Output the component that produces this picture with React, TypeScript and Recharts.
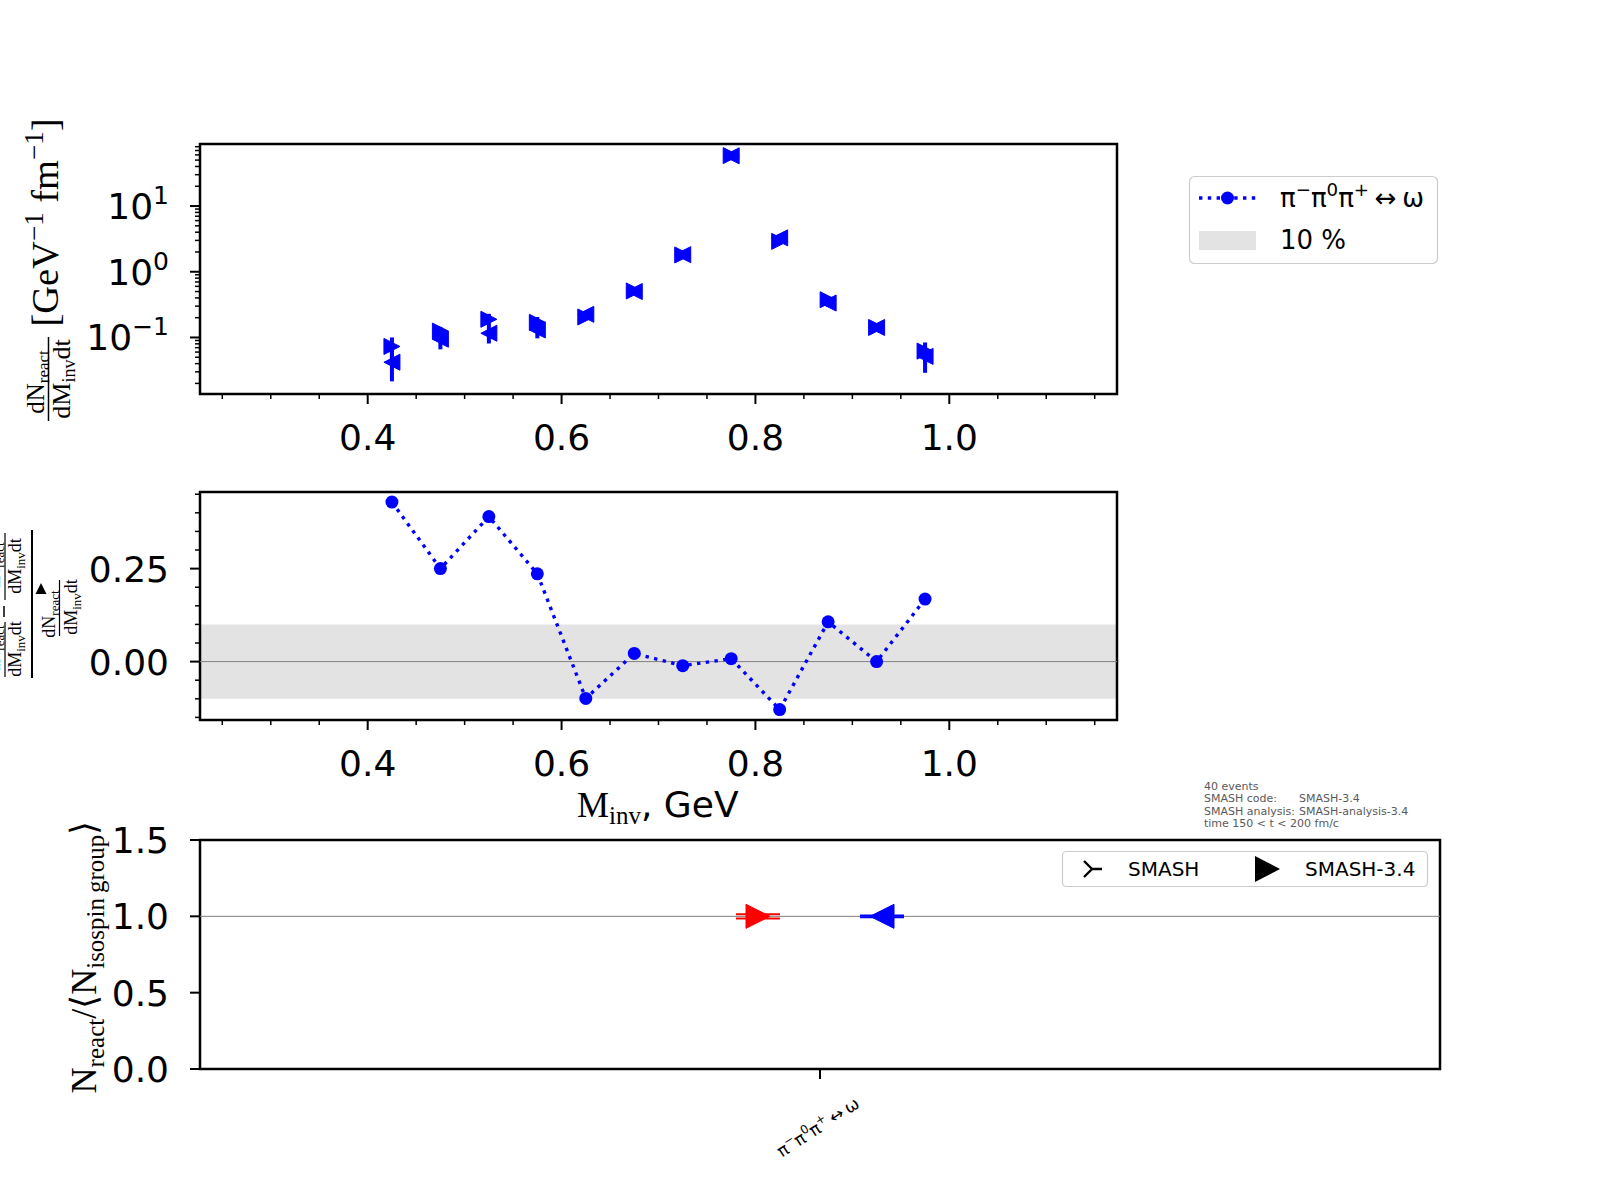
import React from 'react';
import {
  ScatterChart,
  ComposedChart,
  Scatter,
  Line,
  XAxis,
  YAxis,
  ErrorBar,
  ReferenceArea,
  ReferenceLine,
} from 'recharts';

// ---------------- data ----------------
const massBins = [0.425, 0.475, 0.525, 0.575, 0.625, 0.675, 0.725, 0.775, 0.825, 0.875, 0.925, 0.975];
// series drawn with right-pointing triangles
const rateRight = [0.073, 0.125, 0.189, 0.17, 0.205, 0.51, 1.8, 58.5, 2.9, 0.375, 0.142, 0.062];
const rateRightErr = [0.027, 0.02, 0.04, 0.035, 0.02, 0.03, 0.07, 1.2, 0.25, 0.04, 0.015, 0.022];
// series drawn with left-pointing triangles
const rateLeft = [0.042, 0.094, 0.116, 0.13, 0.225, 0.5, 1.82, 58.0, 3.28, 0.334, 0.142, 0.0515];
const rateLeftErr = [0.0205, 0.028, 0.035, 0.033, 0.02, 0.03, 0.07, 1.2, 0.25, 0.04, 0.015, 0.0225];
// relative difference
const relDiff = [0.429, 0.25, 0.39, 0.236, -0.099, 0.022, -0.011, 0.008, -0.129, 0.107, 0.0, 0.168];

const massMajorTicks = [0.4, 0.6, 0.8, 1.0];
const massTickLabels = ['0.4', '0.6', '0.8', '1.0'];
const massMinorTicks = [0.25, 0.3, 0.35, 0.45, 0.5, 0.55, 0.65, 0.7, 0.75, 0.85, 0.9, 0.95, 1.05, 1.1, 1.15];
const rateMajorTicks = [0.1, 1, 10];
const rateTickExponents = ['−1', '0', '1'];
const rateMinorTicks = [
  0.02, 0.03, 0.04, 0.05, 0.06, 0.07, 0.08, 0.09,
  0.2, 0.3, 0.4, 0.5, 0.6, 0.7, 0.8, 0.9,
  2, 3, 4, 5, 6, 7, 8, 9,
  20, 30, 40, 50, 60, 70, 80,
];
const diffMajorTicks = [0, 0.25];
const diffTickLabels = ['0.00', '0.25'];
const diffMinorTicks = [-0.15, -0.1, -0.05, 0.05, 0.1, 0.15, 0.2, 0.3, 0.35, 0.4, 0.45];
const ratioTicks = [0, 0.5, 1.0, 1.5];
const ratioTickLabels = ['0.0', '0.5', '1.0', '1.5'];

const reactionLabels = ['π⁻π⁰π⁺↔ω'];
const ratioRight = [1.0];
const ratioRightErr = [0.014];
const ratioLeft = [1.0];
const ratioLeftErr = [0.006];
const groupOffset = 0.1;

const legendLabels = ['π⁻π⁰π⁺↔ω', '10 %'];
const versionLegend = ['SMASH', 'SMASH-3.4'];
const infoLines = [
  ['40 events', ''],
  ['SMASH code:', 'SMASH-3.4'],
  ['SMASH analysis:', 'SMASH-analysis-3.4'],
  ['time 150 < t < 200 fm/c', ''],
];

// ---------------- derived tables ----------------
const rightData = massBins.map((x, i) => ({ x, y: rateRight[i], err: rateRightErr[i] }));
const leftData = massBins.map((x, i) => ({ x, y: rateLeft[i], err: rateLeftErr[i] }));
const diffData = massBins.map((x, i) => ({ x, y: relDiff[i] }));
const ratioRightData = reactionLabels.map((_, i) => ({ x: i - groupOffset, y: ratioRight[i], err: ratioRightErr[i] }));
const ratioLeftData = reactionLabels.map((_, i) => ({ x: i + groupOffset, y: ratioLeft[i], err: ratioLeftErr[i] }));

const MASS_DOMAIN: [number, number] = [0.227, 1.173];
const RATE_DOMAIN: [number, number] = [0.0138, 87.9];
const DIFF_DOMAIN: [number, number] = [-0.157, 0.456];
const RATIO_DOMAIN: [number, number] = [0, 1.5];
const CAT_DOMAIN: [number, number] = [-1, 1];

const BLUE = '#0000ff';
const SANS = 'DejaVu Sans';
const SERIF = 'Liberation Serif';

const idx = (arr: number[], v: number) => arr.findIndex((a) => Math.abs(a - v) < 1e-9);

// ---------------- rich text helper ----------------
const SUP: Record<string, string> = { '⁻': '−', '⁰': '0', '⁺': '+' };
function richSpans(label: string, size: number) {
  const out: React.ReactNode[] = [];
  let raised = false;
  const chars = Array.from(label);
  chars.forEach((c, i) => {
    if (SUP[c]) {
      out.push(
        <tspan key={i} dy={raised ? 0 : -size * 0.42} fontSize={size * 0.7}>
          {SUP[c]}
        </tspan>
      );
      raised = true;
    } else {
      const pad = c === '↔' || chars[i - 1] === '↔' ? size * 0.22 : 0;
      out.push(
        <tspan key={i} dy={raised ? size * 0.42 : 0} dx={pad} fontSize={size}>
          {c}
        </tspan>
      );
      raised = false;
    }
  });
  return out;
}

// ---------------- ticks ----------------
const MassTick = (props: any) => {
  const { x, y, payload } = props;
  const k = idx(massMajorTicks, payload.value);
  const major = k >= 0;
  return (
    <g>
      <line x1={x} x2={x} y1={y} y2={y + (major ? 10 : 5)} stroke="#000" strokeWidth={major ? 2 : 1.5} />
      {major && (
        <text x={x} y={y + 56} textAnchor="middle" fontFamily={SANS} fontSize={36} fill="#000">
          {massTickLabels[k]}
        </text>
      )}
    </g>
  );
};

const RateTick = (props: any) => {
  const { x, y, payload } = props;
  const k = idx(rateMajorTicks, payload.value);
  const major = k >= 0;
  return (
    <g>
      <line x1={x - (major ? 10 : 5)} x2={x} y1={y} y2={y} stroke="#000" strokeWidth={major ? 2 : 1.5} />
      {major && (
        <text x={x - 31} y={y + 13} textAnchor="end" fontFamily={SANS} fontSize={36} fill="#000">
          10
          <tspan dy={-15} fontSize={25}>
            {rateTickExponents[k]}
          </tspan>
        </text>
      )}
    </g>
  );
};

const DiffTick = (props: any) => {
  const { x, y, payload } = props;
  const k = idx(diffMajorTicks, payload.value);
  const major = k >= 0;
  return (
    <g>
      <line x1={x - (major ? 10 : 5)} x2={x} y1={y} y2={y} stroke="#000" strokeWidth={major ? 2 : 1.5} />
      {major && (
        <text x={x - 31} y={y + 13} textAnchor="end" fontFamily={SANS} fontSize={36} fill="#000">
          {diffTickLabels[k]}
        </text>
      )}
    </g>
  );
};

const RatioTick = (props: any) => {
  const { x, y, payload } = props;
  const k = idx(ratioTicks, payload.value);
  return (
    <g>
      <line x1={x - 10} x2={x} y1={y} y2={y} stroke="#000" strokeWidth={2} />
      <text x={x - 31} y={y + 13} textAnchor="end" fontFamily={SANS} fontSize={36} fill="#000">
        {ratioTickLabels[k]}
      </text>
    </g>
  );
};

const CategoryTick = (props: any) => {
  const { x, y, payload } = props;
  const label = reactionLabels[Math.round(payload.value)] ?? '';
  return (
    <g>
      <line x1={x} x2={x} y1={y} y2={y + 10} stroke="#000" strokeWidth={2} />
      <g transform={`translate(${x - 2},${y + 58}) rotate(-33)`}>
        <text x={0} y={6} textAnchor="middle" fontFamily={SANS} fontSize={17} fill="#000">
          {richSpans(label, 17)}
        </text>
      </g>
    </g>
  );
};

// ---------------- markers ----------------
const triRight = (h: number, fill: string) => (p: any) => {
  const { cx, cy } = p;
  if (cx == null || cy == null) return <g />;
  return <polygon points={`${cx + h},${cy} ${cx - h},${cy - h} ${cx - h},${cy + h}`} fill={fill} stroke={fill} strokeWidth={1} />;
};
const triLeft = (h: number, fill: string) => (p: any) => {
  const { cx, cy } = p;
  if (cx == null || cy == null) return <g />;
  return <polygon points={`${cx - h},${cy} ${cx + h},${cy - h} ${cx + h},${cy + h}`} fill={fill} stroke={fill} strokeWidth={1} />;
};

const abs: React.CSSProperties = { position: 'absolute', left: 0, top: 0 };

const axisCommon = {
  tickSize: 0,
  tickMargin: 0,
  tickLine: false,
  axisLine: false,
  interval: 0 as const,
  allowDataOverflow: true,
};

export default function App() {
  return (
    <div style={{ position: 'absolute', left: 0, top: 0, width: 1600, height: 1200, background: '#fff', overflow: 'hidden' }}>
      {/* ---------- top panel ---------- */}
      <div style={abs}>
        <ScatterChart width={1600} height={1200} margin={{ top: 144, right: 483, bottom: 746, left: 100 }}>
          <XAxis
            type="number"
            dataKey="x"
            domain={MASS_DOMAIN}
            ticks={[...massMinorTicks, ...massMajorTicks].sort((a, b) => a - b)}
            tick={<MassTick />}
            height={60}
            {...axisCommon}
          />
          <YAxis
            type="number"
            dataKey="y"
            scale="log"
            domain={RATE_DOMAIN}
            ticks={[...rateMinorTicks, ...rateMajorTicks].sort((a, b) => a - b)}
            tick={<RateTick />}
            width={100}
            {...axisCommon}
          />
          <Scatter data={leftData} fill={BLUE} shape={triLeft(8, BLUE)} isAnimationActive={false}>
            <ErrorBar dataKey="err" direction="y" width={0} strokeWidth={4} stroke={BLUE} />
          </Scatter>
          <Scatter data={rightData} fill={BLUE} shape={triRight(8, BLUE)} isAnimationActive={false}>
            <ErrorBar dataKey="err" direction="y" width={0} strokeWidth={4} stroke={BLUE} />
          </Scatter>
          <ReferenceArea
            x1={MASS_DOMAIN[0]}
            x2={MASS_DOMAIN[1]}
            y1={RATE_DOMAIN[0]}
            y2={RATE_DOMAIN[1]}
            fill="none"
            stroke="#000"
            strokeWidth={2.5}
            ifOverflow="visible"
          />
        </ScatterChart>
      </div>

      {/* ---------- middle panel ---------- */}
      <div style={abs}>
        <ComposedChart width={1600} height={1200} data={diffData} margin={{ top: 492, right: 483, bottom: 420, left: 100 }}>
          <XAxis
            type="number"
            dataKey="x"
            domain={MASS_DOMAIN}
            ticks={[...massMinorTicks, ...massMajorTicks].sort((a, b) => a - b)}
            tick={<MassTick />}
            height={60}
            {...axisCommon}
          />
          <YAxis
            type="number"
            domain={DIFF_DOMAIN}
            ticks={[...diffMinorTicks, ...diffMajorTicks].sort((a, b) => a - b)}
            tick={<DiffTick />}
            width={100}
            {...axisCommon}
          />
          <ReferenceArea
            x1={MASS_DOMAIN[0]}
            x2={MASS_DOMAIN[1]}
            y1={-0.1}
            y2={0.1}
            fill="#e3e3e3"
            fillOpacity={1}
            stroke="none"
            ifOverflow="visible"
          />
          <ReferenceLine y={0} stroke="#808080" strokeWidth={1} />
          <Line
            type="linear"
            dataKey="y"
            stroke={BLUE}
            strokeWidth={3.4}
            strokeDasharray="3.4 5.4"
            dot={(p: any) => <circle key={`d${p.index}`} cx={p.cx} cy={p.cy} r={6.5} fill={BLUE} stroke="none" />}
            activeDot={false}
            isAnimationActive={false}
          />
          <ReferenceArea
            x1={MASS_DOMAIN[0]}
            x2={MASS_DOMAIN[1]}
            y1={DIFF_DOMAIN[0]}
            y2={DIFF_DOMAIN[1]}
            fill="none"
            stroke="#000"
            strokeWidth={2.5}
            ifOverflow="visible"
          />
        </ComposedChart>
      </div>

      {/* ---------- bottom panel ---------- */}
      <div style={abs}>
        <ScatterChart width={1600} height={1200} margin={{ top: 840, right: 160, bottom: 71, left: 100 }}>
          <XAxis
            type="number"
            dataKey="x"
            domain={CAT_DOMAIN}
            ticks={reactionLabels.map((_, i) => i)}
            tick={<CategoryTick />}
            height={60}
            {...axisCommon}
          />
          <YAxis
            type="number"
            dataKey="y"
            domain={RATIO_DOMAIN}
            ticks={ratioTicks}
            tick={<RatioTick />}
            width={100}
            {...axisCommon}
          />
          <ReferenceLine y={1} stroke="#808080" strokeWidth={1} />
          <Scatter data={ratioRightData} fill="#ff0000" shape={triRight(12, '#ff0000')} isAnimationActive={false}>
            <ErrorBar dataKey="err" direction="y" width={22} strokeWidth={2} stroke="#ff0000" />
          </Scatter>
          <Scatter data={ratioLeftData} fill={BLUE} shape={triLeft(12, BLUE)} isAnimationActive={false}>
            <ErrorBar dataKey="err" direction="y" width={22} strokeWidth={2} stroke={BLUE} />
          </Scatter>
          <ReferenceArea
            x1={CAT_DOMAIN[0]}
            x2={CAT_DOMAIN[1]}
            y1={RATIO_DOMAIN[0]}
            y2={RATIO_DOMAIN[1]}
            fill="none"
            stroke="#000"
            strokeWidth={2.5}
            ifOverflow="visible"
          />
        </ScatterChart>
      </div>

      {/* ---------- labels, legends, annotations ---------- */}
      <svg width={1600} height={1200} style={{ ...abs, pointerEvents: 'none' }}>
        {/* top y label */}
        <g transform="translate(58,222.5) rotate(-90)">
          <text x={0} y={0} textAnchor="middle" fontFamily={SERIF} fontSize={38.5} fill="#000">
            [GeV
            <tspan dy={-15} fontSize={27}>−1</tspan>
            <tspan dy={15}>{' '}fm</tspan>
            <tspan dy={-15} fontSize={27}>−1</tspan>
            <tspan dy={15}>]</tspan>
          </text>
        </g>
        <line x1={48.5} x2={48.5} y1={337} y2={421} stroke="#000" strokeWidth={1.5} />
        <g transform="translate(44,382) rotate(-90)">
          <text x={0} y={0} textAnchor="middle" fontFamily={SERIF} fontSize={25} fill="#000">
            dN<tspan dy={5} fontSize={17}>react</tspan>
          </text>
        </g>
        <g transform="translate(70,379) rotate(-90)">
          <text x={0} y={0} textAnchor="middle" fontFamily={SERIF} fontSize={26} fill="#000">
            dM<tspan dy={5} fontSize={18}>inv</tspan>
            <tspan dy={-5}>dt</tspan>
          </text>
        </g>

        {/* middle y label */}
        <line x1={32} x2={32} y1={530} y2={678} stroke="#000" strokeWidth={2} />
        <line x1={5} x2={5} y1={622} y2={677} stroke="#000" strokeWidth={1.2} />
        <line x1={5} x2={5} y1={533} y2={600} stroke="#000" strokeWidth={1.2} />
        <line x1={4} x2={4} y1={606} y2={617} stroke="#000" strokeWidth={1.5} />
        <g transform="translate(0,649) rotate(-90)">
          <text x={0} y={0} textAnchor="middle" fontFamily={SERIF} fontSize={18} fill="#000">
            dN<tspan dy={4} fontSize={13}>react</tspan>
          </text>
        </g>
        <g transform="translate(0,566) rotate(-90)">
          <text x={0} y={0} textAnchor="middle" fontFamily={SERIF} fontSize={18} fill="#000">
            dN<tspan dy={4} fontSize={13}>react</tspan>
          </text>
        </g>
        <g transform="translate(21,649) rotate(-90)">
          <text x={0} y={0} textAnchor="middle" fontFamily={SERIF} fontSize={18} fill="#000">
            dM<tspan dy={4} fontSize={13}>inv</tspan>
            <tspan dy={-4}>dt</tspan>
          </text>
        </g>
        <g transform="translate(21,566) rotate(-90)">
          <text x={0} y={0} textAnchor="middle" fontFamily={SERIF} fontSize={18} fill="#000">
            dM<tspan dy={4} fontSize={13}>inv</tspan>
            <tspan dy={-4}>dt</tspan>
          </text>
        </g>
        <polygon points="41,583 35.5,594 46.5,594" fill="#000" />
        <g transform="translate(55,614) rotate(-90)">
          <text x={0} y={0} textAnchor="middle" fontFamily={SERIF} fontSize={18} fill="#000">
            dN<tspan dy={4} fontSize={13}>react</tspan>
          </text>
        </g>
        <line x1={59.5} x2={59.5} y1={580} y2={636} stroke="#000" strokeWidth={1.2} />
        <g transform="translate(77,607) rotate(-90)">
          <text x={0} y={0} textAnchor="middle" fontFamily={SERIF} fontSize={18} fill="#000">
            dM<tspan dy={4} fontSize={13}>inv</tspan>
            <tspan dy={-4}>dt</tspan>
          </text>
        </g>

        {/* middle x label */}
        <text x={577} y={817} fontFamily={SERIF} fontSize={36} fill="#000">
          M<tspan dy={7} fontSize={25}>inv</tspan>
          <tspan dy={-7} fontFamily={SANS}>, GeV</tspan>
        </text>

        {/* bottom y label */}
        <g transform="translate(96,957) rotate(-90)">
          <text x={0} y={0} textAnchor="middle" fontFamily={SERIF} fontSize={36} fill="#000">
            N<tspan dy={8} fontSize={25}>react</tspan>
            <tspan dy={-8}>/⟨N</tspan>
            <tspan dy={8} fontSize={25}>isospin{'\u2009'}group</tspan>
            <tspan dy={-8}>⟩</tspan>
          </text>
        </g>

        {/* top-right legend */}
        <rect x={1189.5} y={176.5} width={248} height={87} rx={5} fill="#fff" stroke="#cccccc" strokeWidth={1.2} />
        <line x1={1199} x2={1256} y1={198} y2={198} stroke={BLUE} strokeWidth={3.4} strokeDasharray="3.4 5.4" />
        <circle cx={1227.5} cy={198} r={6.5} fill={BLUE} />
        <text x={1280} y={207} fontFamily={SANS} fontSize={26} fill="#000">
          {richSpans(legendLabels[0], 26)}
        </text>
        <rect x={1199} y={231} width={57} height={19} fill="#e3e3e3" />
        <text x={1280} y={249} fontFamily={SANS} fontSize={26} fill="#000">
          {legendLabels[1]}
        </text>

        {/* info text */}
        {infoLines.map((ln, i) => (
          <text key={i} y={790 + i * 12.3} fontFamily={SANS} fontSize={11} fill="#5a5a5a">
            <tspan x={1204}>{ln[0]}</tspan>
            {ln[1] && <tspan x={1299}>{ln[1]}</tspan>}
          </text>
        ))}

        {/* bottom legend */}
        <rect x={1062.5} y={851.5} width={365} height={35} rx={4} fill="#fff" stroke="#cccccc" strokeWidth={1.2} />
        <path d="M1084,861 L1092,869 L1084,877 M1092,869 L1102,869" stroke="#000" strokeWidth={2.4} fill="none" />
        <text x={1128} y={876} fontFamily={SANS} fontSize={20} fill="#000">
          {versionLegend[0]}
        </text>
        <polygon points="1280,869 1255,856 1255,882" fill="#000" />
        <text x={1305} y={876} fontFamily={SANS} fontSize={20} fill="#000">
          {versionLegend[1]}
        </text>
      </svg>
    </div>
  );
}
